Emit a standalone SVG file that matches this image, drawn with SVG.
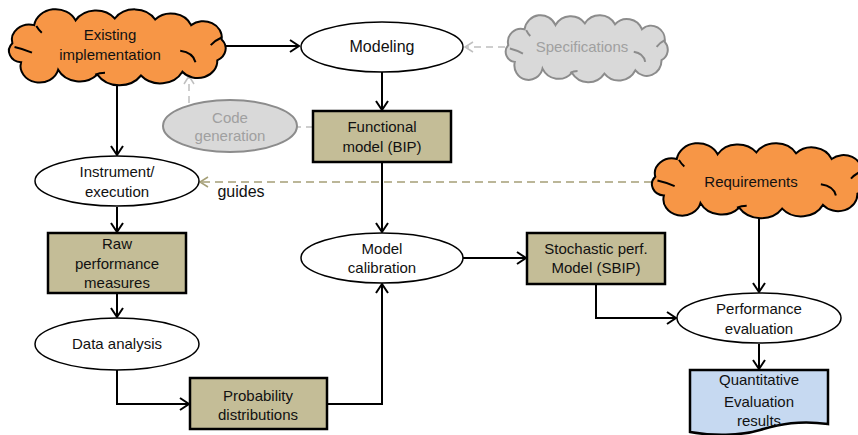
<svg xmlns="http://www.w3.org/2000/svg" xmlns:xlink="http://www.w3.org/1999/xlink" width="858" height="435" viewBox="0 0 858 435">
<style>
  text { font-family: "Liberation Sans", Arial, sans-serif; font-size: 15px; fill: #111; text-anchor: middle; }
  .gtext { fill: #A0A0A0; }
  .ell { fill: #FFFFFF; stroke: #000; stroke-width: 1.5; }
  .box { fill: #C4BD97; stroke: #000; stroke-width: 2.5; }
  .doc { fill: #C6D9F1; stroke: #000; stroke-width: 2.5; }
  .gell { fill: #D9D9D9; stroke: #8C8C8C; stroke-width: 2; }
  .cloudO { fill: #F79646; stroke: #000; stroke-width: 2; }
  .cloudG { fill: #D9D9D9; stroke: #8C8C8C; stroke-width: 2; }
  .conn { fill: none; stroke: #000; stroke-width: 2; marker-end: url(#arrB); }
  .gconn { fill: none; stroke: #BFBFBF; stroke-width: 1.5; stroke-dasharray: 7 5; }
  .oconn { fill: none; stroke: #A59F77; stroke-width: 1.5; stroke-dasharray: 8 5; marker-end: url(#arrO); }
</style>
<defs>
  <marker id="arrB" markerUnits="userSpaceOnUse" markerWidth="14" markerHeight="14" refX="10" refY="7" orient="auto">
    <path d="M1,1 L10,7 L1,13" fill="none" stroke="#000" stroke-width="2"/>
  </marker>
  <marker id="arrG" markerUnits="userSpaceOnUse" markerWidth="14" markerHeight="14" refX="10" refY="7" orient="auto">
    <path d="M2,2 L10,7 L2,12" fill="none" stroke="#BFBFBF" stroke-width="1.5"/>
  </marker>
  <marker id="arrO" markerUnits="userSpaceOnUse" markerWidth="14" markerHeight="14" refX="10" refY="7" orient="auto">
    <path d="M2,2 L10,7 L2,12" fill="none" stroke="#A59F77" stroke-width="1.5"/>
  </marker>
  <symbol id="cloud" viewBox="0 0 200 80" preserveAspectRatio="none" overflow="visible">
    <path vector-effect="non-scaling-stroke" d="M4,36 A16,16 0 0 1 24,17 A20,20 0 0 1 62,12 A22,22 0 0 1 98,10 A22,22 0 0 1 135,11 A20,20 0 0 1 168,17 A17,17 0 0 1 196,32 A14,14 0 0 1 192,54 A18,18 0 0 1 160,66 A23,23 0 0 1 122,70 A24,24 0 0 1 82,69 A22,22 0 0 1 46,64 A17,17 0 0 1 12,56 A12,12 0 0 1 4,36 Z"/>
    <path vector-effect="non-scaling-stroke" fill="none" d="M6,40 Q14,42 22,46 M158,44 Q170,46 172,56 M196,30 Q190,33 186,38 M26,18 Q28,22 31,25 M80,69 Q84,67 89,67"/>
  </symbol>
</defs>

<g id="connectors">
  <path class="conn" d="M226,46 H299"/>
  <path class="gconn" d="M505,47 H465" marker-end="url(#arrG)"/>
  <path class="conn" d="M382,72 V110"/>
  <path class="gconn" d="M189,103 V76" marker-end="url(#arrG)"/>
  <path class="gconn" d="M313,127 H297"/>
  <path class="conn" d="M117,84 V155"/>
  <path class="oconn" d="M652,182 H200"/>
  <path class="conn" d="M117,207 V232"/>
  <path class="conn" d="M117,294 V317"/>
  <path class="conn" d="M117,370 V404 H189"/>
  <path class="conn" d="M327,404 H382 V284"/>
  <path class="conn" d="M382,162 V232"/>
  <path class="conn" d="M463,258 H526"/>
  <path class="conn" d="M596,285 V318 H676"/>
  <path class="conn" d="M759,217 V292"/>
  <path class="conn" d="M759,344 V369"/>
  <text x="241" y="197" style="font-size:16px">guides</text>
</g>

<g id="existing">
  <use xlink:href="#cloud" href="#cloud" x="8" y="9" width="218" height="76" class="cloudO"/>
  <text x="110" y="40">Existing</text>
  <text x="110" y="60">implementation</text>
</g>

<g id="modeling">
  <ellipse class="ell" cx="382" cy="47" rx="81" ry="25"/>
  <text x="382" y="52" style="font-size:16px">Modeling</text>
</g>

<g id="specifications">
  <use xlink:href="#cloud" href="#cloud" x="505" y="15" width="163" height="67" class="cloudG"/>
  <text class="gtext" x="582" y="52">Specifications</text>
</g>

<g id="codegen">
  <ellipse class="gell" cx="230" cy="126" rx="67" ry="26"/>
  <text class="gtext" x="230" y="123">Code</text>
  <text class="gtext" x="230" y="141">generation</text>
</g>

<g id="functional">
  <rect class="box" x="313" y="111" width="138" height="51"/>
  <text x="382" y="132">Functional</text>
  <text x="382" y="152">model (BIP)</text>
</g>

<g id="instrument">
  <ellipse class="ell" cx="117" cy="181" rx="82" ry="25"/>
  <text x="117" y="177">Instrument/</text>
  <text x="117" y="197">execution</text>
</g>

<g id="requirements">
  <use xlink:href="#cloud" href="#cloud" x="651" y="143" width="215" height="75" class="cloudO"/>
  <text x="751" y="187">Requirements</text>
</g>

<g id="raw">
  <rect class="box" x="48" y="233" width="138" height="60"/>
  <text x="117" y="249">Raw</text>
  <text x="117" y="269">performance</text>
  <text x="117" y="288">measures</text>
</g>

<g id="dataanalysis">
  <ellipse class="ell" cx="117" cy="344" rx="82" ry="26"/>
  <text x="117" y="349">Data analysis</text>
</g>

<g id="probability">
  <rect class="box" x="190" y="378" width="137" height="51"/>
  <text x="258" y="401">Probability</text>
  <text x="258" y="420">distributions</text>
</g>

<g id="calibration">
  <ellipse class="ell" cx="382" cy="258" rx="81" ry="25"/>
  <text x="382" y="254">Model</text>
  <text x="382" y="273">calibration</text>
</g>

<g id="stochastic">
  <rect class="box" x="527" y="233" width="138" height="51"/>
  <text x="596" y="254">Stochastic perf.</text>
  <text x="596" y="273">Model (SBIP)</text>
</g>

<g id="performance">
  <ellipse class="ell" cx="759" cy="318" rx="82" ry="25"/>
  <text x="759" y="314">Performance</text>
  <text x="759" y="334">evaluation</text>
</g>

<g id="quantitative">
  <path class="doc" d="M690,370 H828 V424 C800,420 780,424 760,430 C740,436 712,436 690,432 Z"/>
  <text x="759" y="385">Quantitative</text>
  <text x="759" y="407">Evaluation</text>
  <text x="759" y="426">results</text>
</g>
</svg>
